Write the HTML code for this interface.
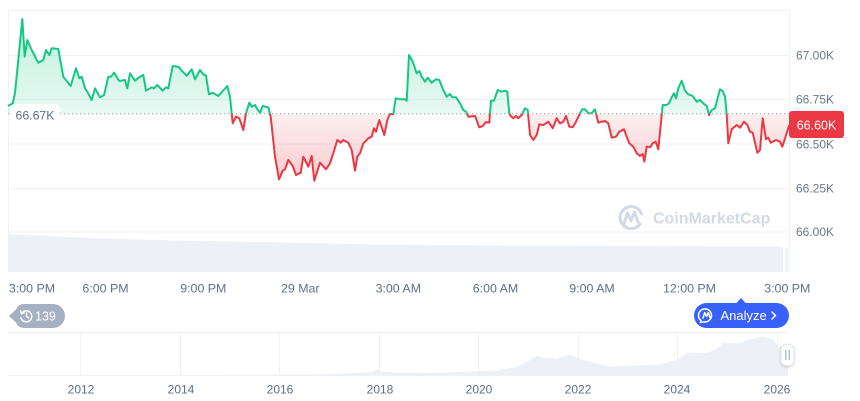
<!DOCTYPE html>
<html><head><meta charset="utf-8"><style>
html,body{margin:0;padding:0;background:#fff;}
svg{display:block;font-family:"Liberation Sans",Arial,sans-serif;}
</style></head><body>
<svg width="860" height="401" viewBox="0 0 860 401" xmlns="http://www.w3.org/2000/svg" xmlns:xlink="http://www.w3.org/1999/xlink">
<defs>
<clipPath id="above"><rect x="0" y="0" width="790" height="113.7"/></clipPath>
<clipPath id="below"><rect x="0" y="113.7" width="790" height="200"/></clipPath>
<linearGradient id="gG" gradientUnits="userSpaceOnUse" x1="0" y1="19" x2="0" y2="113.7">
<stop offset="0" stop-color="#16c784" stop-opacity="0.28"/><stop offset="1" stop-color="#16c784" stop-opacity="0.1"/></linearGradient>
<linearGradient id="gR" gradientUnits="userSpaceOnUse" x1="0" y1="113.7" x2="0" y2="181">
<stop offset="0" stop-color="#ea3943" stop-opacity="0.08"/><stop offset="1" stop-color="#ea3943" stop-opacity="0.26"/></linearGradient>
<filter id="sh" x="-50%" y="-50%" width="200%" height="200%"><feDropShadow dx="0" dy="1" stdDeviation="1.2" flood-color="#000" flood-opacity="0.18"/></filter>
<path id="area" d="M8,113.7 L8,106 L12.7,103.3 L15,93 L18.3,60 L22.3,19 L24.7,56.7 L27.3,40 L31.7,50 L38.3,62.7 L43.3,60 L46,50 L49.3,55 L51.7,48.3 L58.3,49 L63.3,76.7 L70.7,86 L76,68.3 L79.3,78.3 L81.7,76.7 L85,88.3 L87.3,91.7 L91.7,100 L95,88.3 L100,97.3 L104,95 L108.3,76.7 L111,76.7 L114,72.7 L119.3,81 L125,80 L127.3,88.3 L130,73.3 L135,80.7 L140,76.7 L143.3,75 L146,90.7 L151.7,87.3 L154,88.3 L157.3,85 L162.7,90.7 L166,87.3 L168.3,88.3 L172.7,66 L178.3,66.7 L182.7,71.7 L186.7,75.7 L191.7,69.3 L195,79.3 L200,70 L203.3,74.3 L206,75.7 L209,94.3 L212.7,92.7 L218.3,96 L227.3,86 L230,96.7 L232.7,123.3 L236,116.7 L239.3,118.3 L243.3,130 L246,113.3 L249.3,102.7 L251.7,106.7 L255,105 L257.3,109.3 L260,112.7 L262.7,106 L268.3,107.3 L270.7,116.7 L275,156.7 L279,179.3 L282.7,170.7 L285,169.3 L288.3,160 L292.7,166 L296,175 L300.7,172.7 L303.3,156.7 L308.3,166.7 L311.7,156 L314.3,180.7 L320,162.7 L326,169.3 L330,163.3 L333.3,153.3 L337.3,140 L340.7,142.7 L343.3,140 L348.3,142.7 L351.7,150 L355,170.7 L357.3,156.7 L360,153.3 L363.3,143.3 L368.3,138.3 L371.7,136.7 L374,128.3 L376,131.7 L379.3,120 L384.3,135 L387.3,120 L390,114 L393.3,114 L395.7,98.3 L400,99.3 L405,99.3 L406.7,100.7 L409,55 L412.7,61.7 L416.7,73.3 L419.3,71 L421.7,76.7 L425,81.7 L427.7,77.7 L431.7,82.7 L436,79.3 L439.3,80 L443.3,90 L446.7,96.7 L450,94 L452.3,97.3 L456,97.3 L460,103.3 L463.3,110 L466,111.7 L468.3,116.7 L475,116 L479.3,127.3 L482.7,126 L486,122 L489.3,122.7 L491,100.7 L494,100.7 L497.7,90 L501.7,91.7 L505,90.7 L507.3,91.7 L509.3,113.3 L510.7,116 L513.3,118.3 L516,116 L518.3,118.3 L521.7,115 L525,108.3 L527.7,110 L530,135 L533.3,140 L536.7,135 L539.3,124.3 L543.3,125 L548.3,121.7 L552.7,128.3 L556.7,118.3 L560,123.3 L563.3,121.7 L566,116 L569.3,126.7 L572.7,127.3 L576,121.7 L580,113.3 L582.3,109.3 L585,109.3 L588.3,113.3 L591.7,113.3 L595,109.3 L598.3,122.7 L600,122 L605,121 L608.3,123.3 L611.7,137.7 L616,136.7 L619.3,131.7 L624,129.3 L626.7,136.7 L629.3,143.3 L633.3,146.7 L636.7,153.3 L640,156 L642.7,154 L644.3,161.7 L646.7,146.7 L650,147.3 L652.7,143.3 L655.7,141.7 L658.3,149.3 L662.7,105 L666.7,105 L669,103.3 L671.7,97.3 L674,93.3 L676,98.3 L678.3,88.3 L681.7,80.7 L685,90.7 L688.3,94.3 L692.7,96 L696.7,101.7 L700,100 L703.3,103.3 L706.7,106 L709,115 L711.7,110 L715,108.3 L720,89.3 L722.7,91 L725,96.7 L726.7,114 L728.3,143.3 L731.7,129.3 L736.7,125 L740,127.7 L744,121.7 L747.3,125 L750,131.7 L752.7,132.7 L757.3,152.7 L760,150 L762.7,118.3 L766,139.3 L768.3,137.7 L770.7,142.7 L776,140 L780,141.7 L782.3,146.7 L786.7,133.3 L789.3,125 L789.3,113.7 Z"/>
<path id="ln" d="M8,106 L12.7,103.3 L15,93 L18.3,60 L22.3,19 L24.7,56.7 L27.3,40 L31.7,50 L38.3,62.7 L43.3,60 L46,50 L49.3,55 L51.7,48.3 L58.3,49 L63.3,76.7 L70.7,86 L76,68.3 L79.3,78.3 L81.7,76.7 L85,88.3 L87.3,91.7 L91.7,100 L95,88.3 L100,97.3 L104,95 L108.3,76.7 L111,76.7 L114,72.7 L119.3,81 L125,80 L127.3,88.3 L130,73.3 L135,80.7 L140,76.7 L143.3,75 L146,90.7 L151.7,87.3 L154,88.3 L157.3,85 L162.7,90.7 L166,87.3 L168.3,88.3 L172.7,66 L178.3,66.7 L182.7,71.7 L186.7,75.7 L191.7,69.3 L195,79.3 L200,70 L203.3,74.3 L206,75.7 L209,94.3 L212.7,92.7 L218.3,96 L227.3,86 L230,96.7 L232.7,123.3 L236,116.7 L239.3,118.3 L243.3,130 L246,113.3 L249.3,102.7 L251.7,106.7 L255,105 L257.3,109.3 L260,112.7 L262.7,106 L268.3,107.3 L270.7,116.7 L275,156.7 L279,179.3 L282.7,170.7 L285,169.3 L288.3,160 L292.7,166 L296,175 L300.7,172.7 L303.3,156.7 L308.3,166.7 L311.7,156 L314.3,180.7 L320,162.7 L326,169.3 L330,163.3 L333.3,153.3 L337.3,140 L340.7,142.7 L343.3,140 L348.3,142.7 L351.7,150 L355,170.7 L357.3,156.7 L360,153.3 L363.3,143.3 L368.3,138.3 L371.7,136.7 L374,128.3 L376,131.7 L379.3,120 L384.3,135 L387.3,120 L390,114 L393.3,114 L395.7,98.3 L400,99.3 L405,99.3 L406.7,100.7 L409,55 L412.7,61.7 L416.7,73.3 L419.3,71 L421.7,76.7 L425,81.7 L427.7,77.7 L431.7,82.7 L436,79.3 L439.3,80 L443.3,90 L446.7,96.7 L450,94 L452.3,97.3 L456,97.3 L460,103.3 L463.3,110 L466,111.7 L468.3,116.7 L475,116 L479.3,127.3 L482.7,126 L486,122 L489.3,122.7 L491,100.7 L494,100.7 L497.7,90 L501.7,91.7 L505,90.7 L507.3,91.7 L509.3,113.3 L510.7,116 L513.3,118.3 L516,116 L518.3,118.3 L521.7,115 L525,108.3 L527.7,110 L530,135 L533.3,140 L536.7,135 L539.3,124.3 L543.3,125 L548.3,121.7 L552.7,128.3 L556.7,118.3 L560,123.3 L563.3,121.7 L566,116 L569.3,126.7 L572.7,127.3 L576,121.7 L580,113.3 L582.3,109.3 L585,109.3 L588.3,113.3 L591.7,113.3 L595,109.3 L598.3,122.7 L600,122 L605,121 L608.3,123.3 L611.7,137.7 L616,136.7 L619.3,131.7 L624,129.3 L626.7,136.7 L629.3,143.3 L633.3,146.7 L636.7,153.3 L640,156 L642.7,154 L644.3,161.7 L646.7,146.7 L650,147.3 L652.7,143.3 L655.7,141.7 L658.3,149.3 L662.7,105 L666.7,105 L669,103.3 L671.7,97.3 L674,93.3 L676,98.3 L678.3,88.3 L681.7,80.7 L685,90.7 L688.3,94.3 L692.7,96 L696.7,101.7 L700,100 L703.3,103.3 L706.7,106 L709,115 L711.7,110 L715,108.3 L720,89.3 L722.7,91 L725,96.7 L726.7,114 L728.3,143.3 L731.7,129.3 L736.7,125 L740,127.7 L744,121.7 L747.3,125 L750,131.7 L752.7,132.7 L757.3,152.7 L760,150 L762.7,118.3 L766,139.3 L768.3,137.7 L770.7,142.7 L776,140 L780,141.7 L782.3,146.7 L786.7,133.3 L789.3,125"/>
</defs>

<!-- frame & gridlines -->
<g stroke="#eff2f5" stroke-width="1" fill="none">
<line x1="8" y1="10.5" x2="789" y2="10.5"/>
<line x1="8" y1="55.5" x2="789" y2="55.5"/>
<line x1="8" y1="99.5" x2="789" y2="99.5"/>
<line x1="8" y1="144" x2="789" y2="144"/>
<line x1="8" y1="188.5" x2="789" y2="188.5"/>
<line x1="8" y1="232" x2="789" y2="232"/>
<line x1="8.5" y1="10" x2="8.5" y2="272"/>
<line x1="789.5" y1="10" x2="789.5" y2="272"/>
</g>

<!-- volume -->
<path d="M8,234 L60,236.7 L130,239.3 L200,241 L340,243.7 L430,245.3 L600,246 L783,246.5 L783,272 L8,272 Z" fill="#edf0f4"/>
<rect x="785.5" y="248" width="2.5" height="24" fill="#edf0f4"/>

<!-- watermark -->
<g stroke="#d3d9e5" fill="none" stroke-width="3" stroke-linecap="round" stroke-linejoin="round">
<path d="M640,224 A11,11 0 1 1 641.5,214"/>
<path d="M624,224 L627.5,213 L631,221 L634.5,212 L638,222"/>
</g>
<text x="653" y="223.5" font-size="16" font-weight="bold" fill="#d3d9e5">CoinMarketCap</text>

<!-- area fills -->
<use xlink:href="#area" href="#area" clip-path="url(#above)" fill="url(#gG)"/>
<use xlink:href="#area" href="#area" clip-path="url(#below)" fill="url(#gR)"/>

<!-- baseline dotted -->
<line x1="8" y1="113.7" x2="789" y2="113.7" stroke="#9aa3b3" stroke-width="1" stroke-dasharray="1.2,2.8"/>

<!-- line -->
<use xlink:href="#ln" href="#ln" clip-path="url(#above)" fill="none" stroke="#16c784" stroke-width="2" stroke-linejoin="round"/>
<use xlink:href="#ln" href="#ln" clip-path="url(#below)" fill="none" stroke="#ea3943" stroke-width="2" stroke-linejoin="round"/>

<!-- left reference label -->
<rect x="10" y="104" width="50" height="21" rx="6" fill="#fff"/>
<text x="15.5" y="119.5" font-size="12.3" fill="#616e85">66.67K</text>

<!-- y axis labels -->
<g font-size="12" fill="#6b778c">
<text x="796" y="59.5">67.00K</text>
<text x="796" y="103.5">66.75K</text>
<text x="796" y="148.5">66.50K</text>
<text x="796" y="192.5">66.25K</text>
<text x="796" y="236">66.00K</text>
</g>
<rect x="789" y="111" width="55" height="27" rx="3" fill="#ea3943"/>
<text x="816.5" y="129.5" font-size="12.5" fill="#fff" text-anchor="middle">66.60K</text>

<!-- x axis labels -->
<g font-size="12.4" fill="#616e85" text-anchor="middle">
<text x="32" y="292.5">3:00 PM</text>
<text x="105.5" y="292.5">6:00 PM</text>
<text x="203.3" y="292.5">9:00 PM</text>
<text x="300.3" y="292.5">29 Mar</text>
<text x="398.3" y="292.5">3:00 AM</text>
<text x="495.5" y="292.5">6:00 AM</text>
<text x="592" y="292.5">9:00 AM</text>
<text x="689.5" y="292.5">12:00 PM</text>
<text x="787.3" y="292.5">3:00 PM</text>
</g>

<!-- 139 pill -->
<path d="M9,316 L16,309.5 Q18,304 24,304 L53,304 A12,12 0 0 1 53,328 L24,328 Q18,328 16,322.5 Z" fill="#a6b0c3"/>
<g stroke="#fff" stroke-width="1.5" fill="none" stroke-linecap="round">
<path d="M21.5,313.5 A5.5,5.5 0 1 1 21,318"/>
<path d="M20.5,311 L21.5,313.7 L24,312.8"/>
<path d="M26.5,313 L26.5,316.3 L28.5,317.8"/>
</g>
<text x="35" y="320.5" font-size="12.5" fill="#fff">139</text>

<!-- navigator -->
<g stroke="#eff2f5" stroke-width="1">
<line x1="8" y1="332.5" x2="788" y2="332.5"/>
<line x1="8" y1="375.5" x2="788" y2="375.5"/>
<line x1="80.5" y1="332" x2="80.5" y2="375"/>
<line x1="180.5" y1="332" x2="180.5" y2="375"/>
<line x1="279.5" y1="332" x2="279.5" y2="375"/>
<line x1="379.5" y1="332" x2="379.5" y2="375"/>
<line x1="478.5" y1="332" x2="478.5" y2="375"/>
<line x1="578.5" y1="332" x2="578.5" y2="375"/>
<line x1="677.5" y1="332" x2="677.5" y2="375"/>
<line x1="777.5" y1="332" x2="777.5" y2="375"/>
</g>
<path d="M8,375 L200,375 L330,374.3 L360,373 L372,372 L377,369.5 L382,371.5 L400,372.5 L430,373.3 L463,371.7 L497,370.7 L517,366.7 L530,360 L537,356 L545,358 L557,359 L570,354 L577,358 L590,361.7 L610,366.7 L630,365.7 L657,365 L677,360 L687,352.7 L707,353.3 L717,348.3 L723,342.7 L740,343.3 L747,340 L763,336.7 L773,339.3 L778,346.7 L788,348 L788,375 Z" fill="#edf0f4"/>
<rect x="781" y="344.5" width="13" height="21" rx="5" fill="#fff" stroke="#e3e7ee" filter="url(#sh)"/>
<line x1="785.8" y1="350" x2="785.8" y2="360" stroke="#a6b0c3" stroke-width="1.2"/>
<line x1="789.2" y1="350" x2="789.2" y2="360" stroke="#a6b0c3" stroke-width="1.2"/>

<g font-size="12" fill="#616e85" text-anchor="middle">
<text x="81" y="393.5">2012</text>
<text x="181" y="393.5">2014</text>
<text x="280" y="393.5">2016</text>
<text x="380" y="393.5">2018</text>
<text x="479" y="393.5">2020</text>
<text x="578" y="393.5">2022</text>
<text x="677" y="393.5">2024</text>
<text x="777" y="393.5">2026</text>
</g>

<!-- Analyze button -->
<path d="M736,303.5 L741,298 L746,303.5 Z" fill="#3861fb"/>
<rect x="694" y="303" width="95" height="25" rx="12.5" fill="#3861fb"/>
<g stroke="#fff" stroke-width="1.5" fill="none" stroke-linecap="round" stroke-linejoin="round">
<path d="M701,320.5 A6.5,6.5 0 1 1 704,321.8 L700.5,322.5 Z"/>
<path d="M703,318 L704.8,312.5 L706.5,316.5 L708.3,312.5 L710,317.5"/>
<path d="M772,312 L775.5,315.5 L772,319"/>
</g>
<text x="720.5" y="320" font-size="13" fill="#fff">Analyze</text>
</svg>
</body></html>
